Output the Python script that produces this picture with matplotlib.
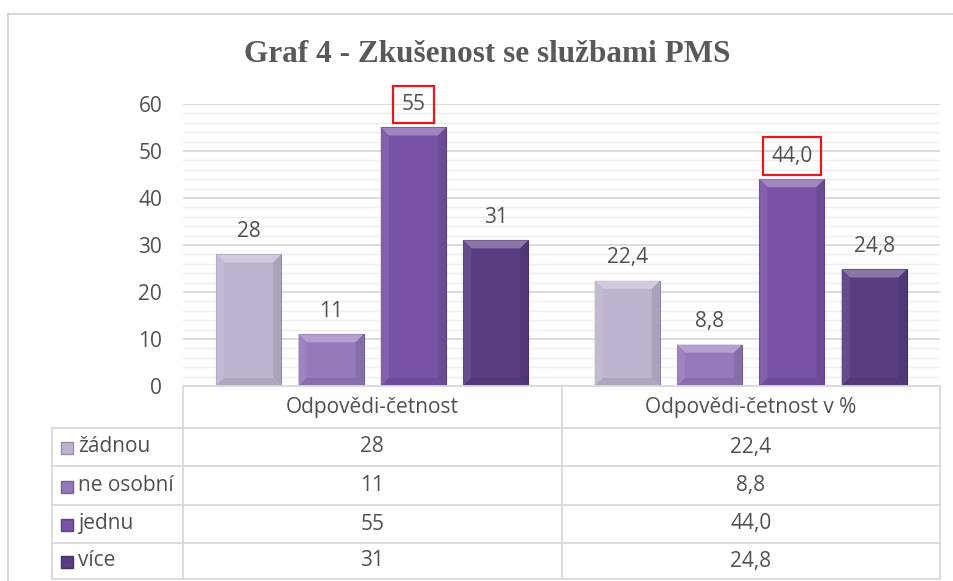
import numpy as np
import matplotlib.pyplot as plt
from matplotlib.colors import to_rgb
from matplotlib.patches import Polygon
from matplotlib.lines import Line2D
from matplotlib.ticker import MultipleLocator

# --- data -----------------------------------------------------------
groups = ['Odpovědi-četnost', 'Odpovědi-četnost v %']
series = ['žádnou', 'ne osobní', 'jednu', 'více']
counts = [28, 11, 55, 31]
percents = [22.4, 8.8, 44.0, 24.8]
count_labels = ['28', '11', '55', '31']
percent_labels = ['22,4', '8,8', '44,0', '24,8']
colors = ['#bdb3cf', '#9479bb', '#7752a7', '#583d82']
highlight = 'jednu'

TXT = '#505050'
GRID = '#d9d9d9'
FONT = 'Open Sans'
FS = 15

W, H = 954, 581
fig = plt.figure(figsize=(W / 100, H / 100), dpi=100)

def fx(px):
    return px / W

def fy(py):
    return 1 - py / H

# outer frame (only left/top visible in the crop)
fig.add_artist(Line2D([fx(8), fx(8)], [fy(14), 0], color='#d0d0d0', lw=1.2,
                      transform=fig.transFigure))
fig.add_artist(Line2D([fx(8), 1], [fy(14), fy(14)], color='#d0d0d0', lw=1.2,
                      transform=fig.transFigure))

fig.text(fx(487), fy(55), 'Graf 4 - Zkušenost se službami PMS',
         family='Liberation Serif', weight='bold', fontsize=22.5,
         color='#595959', ha='center', va='center')

# main plot area
left, right, top, bottom = 183, 940, 104, 386
ax = fig.add_axes([fx(left), fy(bottom), fx(right - left), (bottom - top) / H])
ax.set_xlim(-0.5, 1.5)
ax.set_ylim(0, 60)
for s in ax.spines.values():
    s.set_visible(False)
ax.set_yticks(range(0, 61, 10))
ax.yaxis.set_minor_locator(MultipleLocator(2))
ax.grid(axis='y', which='major', color=GRID, lw=1.3, zorder=0)
ax.grid(axis='y', which='minor', color='#eeeeee', lw=1.0, zorder=0)
ax.set_axisbelow(True)
ax.set_xticks([])
ax.tick_params(axis='y', which='both', length=0, pad=15, labelsize=FS,
               labelcolor=TXT)
for lb in ax.get_yticklabels():
    lb.set_family(FONT)

x = np.arange(len(groups))
step = 0.2175
bw = 0.172
px_x = (right - left) / 2.0   # pixels per x unit
px_y = (bottom - top) / 60.0  # pixels per y unit


def blend(c, other, t):
    c = np.array(to_rgb(c))
    o = np.array(to_rgb(other))
    return tuple(c * (1 - t) + o * t)


def bevel(patch, color):
    x0 = patch.get_x()
    w = patch.get_width()
    h = patch.get_height()
    dx = 8 / px_x
    dy = min(8 / px_y, h / 2)
    x1 = x0 + w
    ax.add_patch(Polygon([(x0, h), (x1, h), (x1 - dx, h - dy), (x0 + dx, h - dy)],
                         closed=True, fc=blend(color, 'white', 0.3), ec='none', zorder=3))
    ax.add_patch(Polygon([(x0, 0), (x0, h), (x0 + dx, h - dy), (x0 + dx, dy)],
                         closed=True, fc=blend(color, 'white', 0.08), ec='none', zorder=3))
    ax.add_patch(Polygon([(x1, 0), (x1, h), (x1 - dx, h - dy), (x1 - dx, dy)],
                         closed=True, fc=blend(color, 'black', 0.1), ec='none', zorder=3))
    ax.add_patch(Polygon([(x0, 0), (x1, 0), (x1 - dx, dy), (x0 + dx, dy)],
                         closed=True, fc=blend(color, 'black', 0.08), ec='none', zorder=3))


for i, name in enumerate(series):
    vals = [counts[i], percents[i]]
    labs = [count_labels[i], percent_labels[i]]
    bars = ax.bar(x + (i - 1.5) * step, vals, bw, color=colors[i],
                  edgecolor=blend(colors[i], 'black', 0.25), lw=0.8, zorder=2)
    for b, lab in zip(bars, labs):
        bevel(b, colors[i])
        kw = {}
        if name == highlight:
            kw['bbox'] = dict(boxstyle='square,pad=0.4', fc='none', ec='#e8171d', lw=1.6)
        ax.annotate(lab, (b.get_x() + b.get_width() / 2, b.get_height()),
                    xytext=(0, 9), textcoords='offset points', ha='center',
                    va='bottom', fontsize=FS, color=TXT, family=FONT,
                    annotation_clip=False, **kw)

# data table under the chart
tab_top, tab_bot = 386, 580
tab = fig.add_axes([fx(left), fy(tab_bot), fx(right - left), (tab_bot - tab_top) / H])
tab.set_xlim(-0.5, 1.5)
tab.set_ylim(tab_bot - tab_top, 0)
tab.axis('off')
xl = -0.5 - (left - 52) / px_x
rows = [0, 42, 80, 119, 157, 193]
lkw = dict(color=GRID, lw=1.3, clip_on=False)
tab.plot([-0.5, 1.5], [rows[0], rows[0]], **lkw)
for r in rows[1:]:
    tab.plot([xl, 1.5], [r, r], **lkw)
for xv in [-0.5, 0.5, 1.5]:
    tab.plot([xv, xv], [rows[0], rows[-1]], **lkw)
tab.plot([xl, xl], [rows[1], rows[-1]], **lkw)

for j, g in enumerate(groups):
    tab.text(j, (rows[0] + rows[1]) / 2, g, ha='center', va='center',
             fontsize=FS, color=TXT, family=FONT)

for i, name in enumerate(series):
    yc = (rows[i + 1] + rows[i + 2]) / 2
    tab.plot([xl + 15 / px_x], [yc + 1], marker='s', ms=8.5, color=colors[i],
             mec=blend(colors[i], 'black', 0.2), clip_on=False)
    tab.text(xl + 26 / px_x, yc, name, ha='left', va='center',
             fontsize=FS, color=TXT, family=FONT)
    tab.text(0, yc, count_labels[i], ha='center', va='center',
             fontsize=FS, color=TXT, family=FONT)
    tab.text(1, yc, percent_labels[i], ha='center', va='center',
             fontsize=FS, color=TXT, family=FONT)

fig.savefig('out.png', dpi=100)
